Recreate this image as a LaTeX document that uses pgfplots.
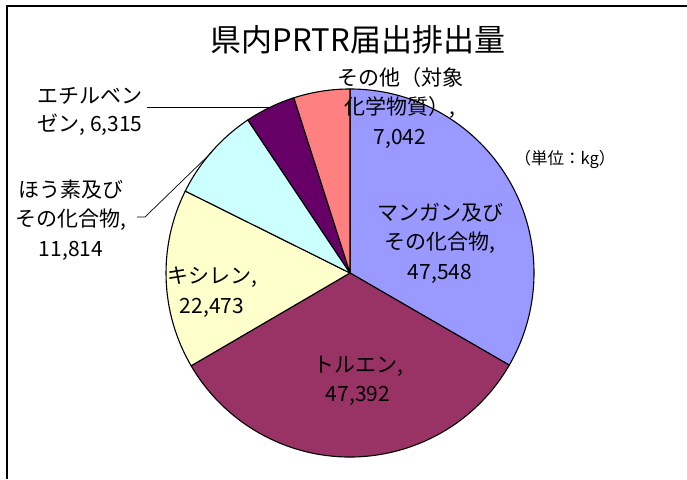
\documentclass[border=0pt]{standalone}
\usepackage{pgfplots}
\pgfplotsset{compat=1.18}
\usepackage{pgfplotstable}
\usepackage{fontspec}
\setmainfont{Noto Sans CJK JP}
\definecolor{cMn}{HTML}{9999FF}
\definecolor{cTol}{HTML}{993366}
\definecolor{cXyl}{HTML}{FFFFCC}
\definecolor{cB}{HTML}{CCFFFF}
\definecolor{cEB}{HTML}{660066}
\definecolor{cOth}{HTML}{FF8080}
\pgfplotstableread{
name value color
Mn 47548 cMn
Tol 47392 cTol
Xyl 22473 cXyl
B 11814 cB
EB 6315 cEB
Oth 7042 cOth
}\piedata
\begin{document}
\begin{tikzpicture}
\begin{axis}[
  width=687pt, height=479pt, scale only axis,
  xmin=0, xmax=687, ymin=0, ymax=479,
  hide axis, clip=false,
]
\pgfplotsextra{
  \def\total{0}
  \pgfplotsforeachungrouped \i in {0,...,5}{%
    \pgfplotstablegetelem{\i}{value}\of\piedata
    \edef\total{\fpeval{\total+\pgfplotsretval}}%
  }%
  \def\startang{90}%
  \pgfplotsforeachungrouped \i in {0,...,5}{%
    \pgfplotstablegetelem{\i}{value}\of\piedata \let\v\pgfplotsretval
    \pgfplotstablegetelem{\i}{color}\of\piedata \let\c\pgfplotsretval
    \edef\endang{\fpeval{\startang - 360*\v/\total}}%
    \filldraw[fill=\c, draw=black, line width=1.1pt, line join=round]
      (axis cs:350,206) -- ++(\startang:184pt)
      arc[start angle=\startang, end angle=\endang, radius=184pt] -- cycle;
    \let\startang\endang
  }%
  \draw[line width=1.5pt] (axis cs:7,0) -- (axis cs:7,473) -- (axis cs:687,473);
  \draw[line width=0.7pt] (axis cs:147,372) -- (axis cs:270,372);
  \draw[line width=0.7pt] (axis cs:137,262) -- (axis cs:145,262) -- (axis cs:212,327);
}
\node[font=\fontsize{31}{36}\selectfont] at (axis cs:358,439) {県内PRTR届出排出量};
\node[font=\fontsize{21}{29.5}\selectfont, align=center] at (axis cs:400,371) {その他（対象\\化学物質）,\\7,042};
\node[font=\fontsize{16.5}{20}\selectfont] at (axis cs:565,319) {（単位：kg）};
\node[font=\fontsize{21}{29.5}\selectfont, align=center] at (axis cs:440,236) {マンガン及び\\その化合物,\\47,548};
\node[font=\fontsize{21}{29.5}\selectfont, align=center] at (axis cs:358,98) {トルエン,\\47,392};
\node[font=\fontsize{21}{29.5}\selectfont, align=center] at (axis cs:212,187) {キシレン,\\22,473};
\node[font=\fontsize{21}{29.5}\selectfont, align=center] at (axis cs:71,259) {ほう素及び\\その化合物,\\11,814};
\node[font=\fontsize{21}{28}\selectfont, align=center] at (axis cs:90,368) {エチルベン\\ゼン, 6,315};
\end{axis}
\pgfresetboundingbox
\path[use as bounding box] (current axis.south west) rectangle (current axis.north east);
\end{tikzpicture}
\end{document}
